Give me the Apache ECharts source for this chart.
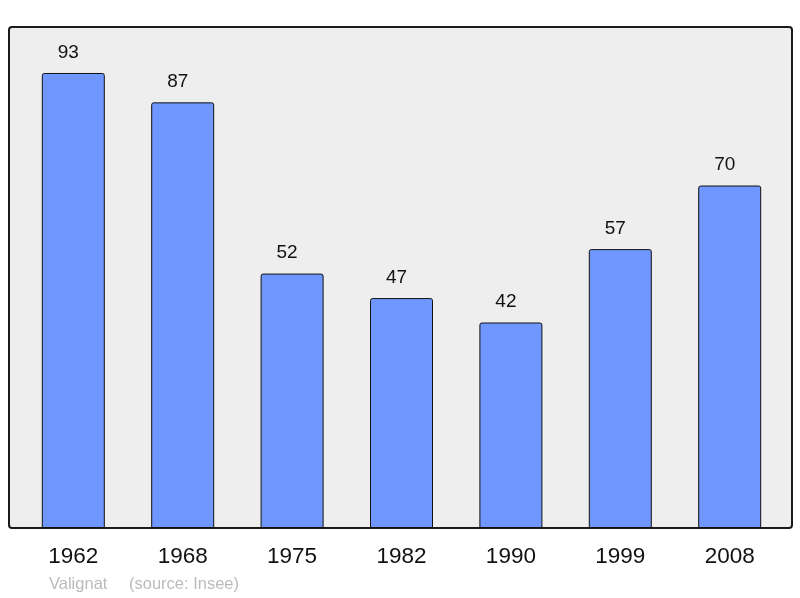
<!DOCTYPE html>
<html>
<head>
<meta charset="utf-8">
<script src="https://cdn.jsdelivr.net/npm/echarts@6/dist/echarts.min.js"></script>
<style>html,body{margin:0;padding:0;background:#fff;}#c{width:800px;height:598px;}</style>
</head>
<body>
<div id="c"></div>
<script>
const categories = ['1962', '1968', '1975', '1982', '1990', '1999', '2008'];
const population = [93, 87, 52, 47, 42, 57, 70];
const chart = echarts.init(document.getElementById('c'));
chart.setOption({
  animation: false,
  backgroundColor: '#ffffff',
  grid: { left: 18.6, right: 15.6, top: 27, bottom: 70 },
  xAxis: {
    type: 'category',
    data: categories,
    axisLine: { show: false },
    axisTick: { show: false },
    axisLabel: { margin: 17, fontSize: 22.5, color: '#111', fontFamily: 'Liberation Sans' }
  },
  yAxis: {
    type: 'value', min: 0, max: 102.4,
    show: false,
    splitLine: { show: false }
  },
  graphic: [
    { type: 'rect', z: 0, shape: { x: 9, y: 27, width: 783, height: 501, r: 3 },
      style: { fill: '#eeeeee', stroke: '#1a1a1a', lineWidth: 2 } },
    { type: 'text', left: 49, top: 576, z: 10,
      style: { text: 'Valignat', fill: '#bbbbbb', fontSize: 16.5, fontFamily: 'Liberation Sans' } },
    { type: 'text', left: 129, top: 576, z: 10,
      style: { text: '(source: Insee)', fill: '#bbbbbb', fontSize: 16.5, fontFamily: 'Liberation Sans' } }
  ],
  series: [{
    type: 'bar',
    data: population,
    barWidth: 63,
    z: 5,
    itemStyle: { color: '#7097ff', borderColor: '#111', borderWidth: 1, borderRadius: [2, 2, 0, 0] },
    label: { show: true, position: 'top', distance: 11, offset: [-5, 0], fontSize: 19, color: '#111', fontFamily: 'Liberation Sans' }
  }]
});
</script>
</body>
</html>
